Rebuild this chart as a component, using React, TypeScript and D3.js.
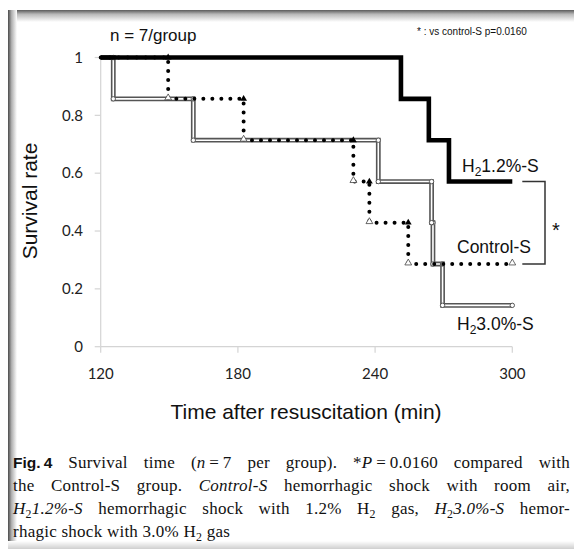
import * as d3 from "d3";
import { useEffect, useRef } from "react";

// survival data (Kaplan-Meier style steps)
const ctrlTimes = [120, 149.5, 182.5, 230.5, 237.5, 254.5, 300];
const ctrlSurv = [1, 0.857, 0.714, 0.571, 0.429, 0.286, 0.286];
const h12Times = [120, 251.3, 263.5, 272.3, 300];
const h12Surv = [1, 0.857, 0.714, 0.571, 0.571];
const h30Times = [120, 125.5, 160.5, 241.4, 264.7, 265.3, 269.5, 300];
const h30Surv = [1, 0.857, 0.714, 0.571, 0.429, 0.286, 0.143, 0.143];

const xTicks = [120, 180, 240, 300];
const yTicks = [0, 0.2, 0.4, 0.6, 0.8, 1];

const W = 574;
const H = 549;

const x = d3.scaleLinear().domain([120, 300]).range([100.7, 512.3]);
const y = d3.scaleLinear().domain([0, 1]).range([346.7, 57.5]);

type Pt = [number, number];
const zip = (t: number[], s: number[]): Pt[] => t.map((d, i) => [d, s[i]]);

const stepLine = d3
  .line<Pt>()
  .x((d) => x(d[0]))
  .y((d) => y(d[1]))
  .curve(d3.curveStepAfter);

// corners of the step curve: top (before drop) and bottom (after drop)
const corners = (t: number[], s: number[]) => {
  const tops: Pt[] = [];
  const bottoms: Pt[] = [];
  for (let i = 1; i < t.length; i++) {
    if (s[i] !== s[i - 1]) {
      tops.push([t[i], s[i - 1]]);
      bottoms.push([t[i], s[i]]);
    }
  }
  bottoms.push([t[t.length - 1], s[s.length - 1]]);
  return { tops, bottoms };
};

const tri = d3.symbol().type(d3.symbolTriangle).size(20);

const sans = "'Liberation Sans', Arial, sans-serif";
const tickFont = "Lato, 'Open Sans', sans-serif";
const serif = "'Liberation Serif', 'Times New Roman', serif";
const thin = "\u2009";

function Sub({ children }: { children: string }) {
  return (
    <tspan fontSize="0.7em" dy="4">
      {children}
    </tspan>
  );
}

function Label({ x0, y0, rest, sub }: { x0: number; y0: number; rest: string; sub?: boolean }) {
  return (
    <text x={x0} y={y0} fontFamily={sans} fontSize={17.5} fill="#111">
      {sub ? (
        <>
          H<tspan fontSize={12} dy={4}>2</tspan>
          <tspan dy={-4}>{rest}</tspan>
        </>
      ) : (
        rest
      )}
    </text>
  );
}

export default function App() {
  const capRef = useRef<SVGGElement>(null);
  const ctrl = zip(ctrlTimes, ctrlSurv);
  const h12 = zip(h12Times, h12Surv);
  const h30 = zip(h30Times, h30Surv);
  const cc = corners(ctrlTimes, ctrlSurv);
  const hc = corners(h30Times, h30Surv);

  // justify caption lines by widening word gaps
  useEffect(() => {
    d3.select(capRef.current)
      .selectAll<SVGTextElement, unknown>("text.just")
      .each(function () {
        const len = this.getComputedTextLength();
        const gaps = (this.textContent || "").split(" ").length - 1;
        if (gaps > 0) d3.select(this).attr("word-spacing", Math.max(0, (557 - len) / gaps));
      });
  }, []);

  return (
    <svg
      width={W}
      height={H}
      style={{ position: "absolute", left: 0, top: 0, display: "block" }}
    >
      <defs>
        <linearGradient id="topShade" x1="0" y1="0" x2="0" y2="1">
          <stop offset="0" stopColor="#5a5a5a" />
          <stop offset="0.35" stopColor="#b8b8b8" />
          <stop offset="1" stopColor="#ffffff" />
        </linearGradient>
        <linearGradient id="leftShade" x1="0" y1="0" x2="1" y2="0">
          <stop offset="0" stopColor="#4a4a4a" />
          <stop offset="0.4" stopColor="#b0b0b0" />
          <stop offset="1" stopColor="#ffffff" />
        </linearGradient>
        <linearGradient id="botShade" x1="0" y1="0" x2="0" y2="1">
          <stop offset="0" stopColor="#ffffff" />
          <stop offset="1" stopColor="#cfcfcf" />
        </linearGradient>
      </defs>

      {/* frame */}
      <rect x={0} y={0} width={W} height={H} fill="#fff" />
      <rect x={8} y={10} width={W} height={12} fill="url(#topShade)" />
      <rect x={8} y={10} width={9} height={H - 10} fill="url(#leftShade)" />
      <rect x={8} y={541} width={W} height={8} fill="url(#botShade)" />

      {/* axes */}
      <g stroke="#d4d4d4" strokeWidth={1.2} fill="none">
        <line x1={x(120)} x2={x(120)} y1={y(1)} y2={y(0)} />
        <line x1={x(120)} x2={x(300)} y1={y(0)} y2={y(0)} />
        {yTicks.map((t) => (
          <line key={t} x1={x(120) - 6} x2={x(120)} y1={y(t)} y2={y(t)} />
        ))}
        {xTicks.map((t) => (
          <line key={t} x1={x(t)} x2={x(t)} y1={y(0)} y2={y(0) + 6} />
        ))}
      </g>
      <g fontFamily={tickFont} fontSize={15} fill="#222">
        {yTicks.map((t) => (
          <text key={t} x={83} y={y(t)} dy="0.35em" textAnchor="end">
            {t}
          </text>
        ))}
        {xTicks.map((t) => (
          <text key={t} x={x(t)} y={379} textAnchor="middle">
            {t}
          </text>
        ))}
      </g>

      {/* titles */}
      <text
        transform="translate(37,201) rotate(-90)"
        textAnchor="middle"
        fontFamily={sans}
        fontSize={21}
        fill="#111"
      >
        Survival rate
      </text>
      <text x={306} y={419} textAnchor="middle" fontFamily={sans} fontSize={21} fill="#111">
        Time after resuscitation (min)
      </text>
      <text x={110} y={41} fontFamily={sans} fontSize={17} fill="#111">
        n = 7/group
      </text>
      <text x={417} y={35} fontFamily={sans} fontSize={10} fill="#111">
        * : vs control-S p=0.0160
      </text>

      {/* H2 3.0%-S : double line */}
      <path d={stepLine(h30) ?? ""} fill="none" stroke="#555" strokeWidth={4.8} />
      <path d={stepLine(h30) ?? ""} fill="none" stroke="#fff" strokeWidth={1.6} />
      {[...hc.tops, ...hc.bottoms].map((d, i) => (
        <circle key={i} cx={x(d[0])} cy={y(d[1])} r={2.2} fill="#fff" stroke="#555" strokeWidth={1} />
      ))}

      {/* H2 1.2%-S : thick black */}
      <path d={stepLine(h12) ?? ""} fill="none" stroke="#000" strokeWidth={4.6} />

      {/* Control-S : dotted */}
      <path
        d={stepLine(ctrl) ?? ""}
        fill="none"
        stroke="#000"
        strokeWidth={4}
        strokeLinecap="round"
        strokeDasharray="0 9"
      />
      {cc.tops.map((d, i) => (
        <path key={"t" + i} d={tri() ?? ""} transform={`translate(${x(d[0])},${y(d[1])})`} fill="#000" />
      ))}
      {cc.bottoms.map((d, i) => (
        <path
          key={"b" + i}
          d={tri() ?? ""}
          transform={`translate(${x(d[0])},${y(d[1]) - 1})`}
          fill="#fff"
          stroke="#444"
          strokeWidth={0.8}
        />
      ))}

      {/* series labels */}
      <Label x0={462} y0={172} rest="1.2%-S" sub />
      <Label x0={457} y0={253} rest="Control-S" />
      <Label x0={457} y0={330} rest="3.0%-S" sub />

      {/* significance bracket */}
      <path
        d={`M${x(300) + 10},${y(0.571)} H545 V${y(0.286)} H${x(300) + 10}`}
        fill="none"
        stroke="#333"
        strokeWidth={1.5}
      />
      <text x={556} y={237} textAnchor="middle" fontFamily={sans} fontSize={20} fill="#111">
        *
      </text>

      {/* caption */}
      <g ref={capRef} fontFamily={serif} fontSize={17} fill="#111" letterSpacing={0.25}>
        <text className="just" x={13} y={468}>
          <tspan fontFamily={sans} fontWeight="bold" fontSize={15.5} letterSpacing={0}>
            {"Fig.\u20094"}
          </tspan>
          {" Survival time ("}
          <tspan fontStyle="italic">n</tspan>
          {`${thin}=${thin}7 per group). *`}
          <tspan fontStyle="italic">P</tspan>
          {`${thin}=${thin}0.0160 compared with`}
        </text>
        <text className="just" x={13} y={491}>
          {"the Control-S group. "}
          <tspan fontStyle="italic">Control-S</tspan>
          {" hemorrhagic shock with room air,"}
        </text>
        <text className="just" x={13} y={514}>
          <tspan fontStyle="italic">H</tspan>
          <Sub>2</Sub>
          <tspan fontStyle="italic" dy="-4">1.2%-S</tspan>
          {" hemorrhagic shock with 1.2% H"}
          <Sub>2</Sub>
          <tspan dy="-4">{" gas, "}</tspan>
          <tspan fontStyle="italic">H</tspan>
          <Sub>2</Sub>
          <tspan fontStyle="italic" dy="-4">3.0%-S</tspan>
          {" hemor-"}
        </text>
        <text x={13} y={537}>
          {"rhagic shock with 3.0% H"}
          <Sub>2</Sub>
          <tspan dy="-4">{" gas"}</tspan>
        </text>
      </g>
    </svg>
  );
}
